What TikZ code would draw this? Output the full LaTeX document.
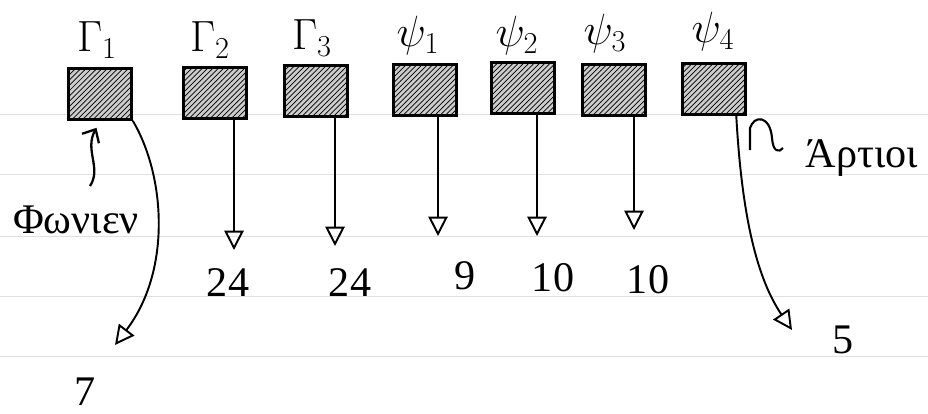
\documentclass[tikz,border=0pt]{standalone}
\usepackage{fontspec}
\setmainfont{Liberation Serif}
\usetikzlibrary{arrows.meta,patterns}
\begin{document}
\begin{tikzpicture}[x=0.02cm,y=-0.02cm,
        cell/.style={draw,line width=1.5pt,minimum width=1.26cm,minimum height=1.02cm,
            fill=gray!40,postaction={pattern=north east lines}},
        lbl/.style={font=\fontsize{24}{28}\selectfont},
        arr/.style={line width=1.1pt,-{Triangle[open,length=11pt,width=11pt]}},
        curl/.style={line width=1.3pt,-{Straight Barb[length=6pt,width=11pt]}}]
        \useasboundingbox (0,0) rectangle (928,413);
        % paper lines
        \foreach \y in {114,174,236,296,356}
            \draw[gray!25] (0,\y) -- (928,\y);
        % the boxes
        \node[cell] (g1) at (100,94) {};
        \node[cell] (g2) at (215,93) {};
        \node[cell] (g3) at (316,91) {};
        \node[cell] (p1) at (425,90) {};
        \node[cell] (p2) at (523,88) {};
        \node[cell] (p3) at (614,90) {};
        \node[cell] (p4) at (714,89) {};
        \node[lbl] (g1l) at (97,40) {$\Gamma_1$};
        \node[lbl] (g2l) at (210,40) {$\Gamma_2$};
        \node[lbl] (g3l) at (312,38) {$\Gamma_3$};
        \node[lbl] (p1l) at (418,36) {$\psi_1$};
        \node[lbl] (p2l) at (517,36) {$\psi_2$};
        \node[lbl] (p3l) at (605,34) {$\psi_3$};
        \node[lbl] (p4l) at (713,32) {$\psi_4$};
        % values
        \node[lbl] (v1) at (85,392) {7};
        \node[lbl] (v2) at (228,283) {24};
        \node[lbl] (v3) at (350,283) {24};
        \node[lbl] (v4) at (465,276) {9};
        \node[lbl] (v5) at (553,278) {10};
        \node[lbl] (v6) at (648,280) {10};
        \node[lbl] (v7) at (843,340) {5};
        \node[lbl] (w1) at (76,220) {Φωνιεν};
        \node[lbl] (w2) at (862,158) {Άρτιοι};
        % arrows
        \coordinate (t1) at (115,345);
        \coordinate (t2) at (234,250);
        \coordinate (t3) at (335,246);
        \coordinate (t4) at (438,236);
        \coordinate (t5) at (537,236);
        \coordinate (t6) at (634,230);
        \coordinate (t7) at (792,330);
        \draw[arr] (g1.south east) .. controls (165,175) and (172,270) .. (t1);
        \draw[arr] (g2.south -| t2) -- (t2);
        \draw[arr] (g3.south -| t3) -- (t3);
        \draw[arr] (p1.south -| t4) -- (t4);
        \draw[arr] (p2.south -| t5) -- (t5);
        \draw[arr] (p3.south -| t6) -- (t6);
        \draw[arr] ([xshift=-6pt]p4.south east) .. controls (742,220) and (758,280) .. (t7);
        % side notes
        \coordinate (c1) at (90,186);
        \draw[curl] (c1) .. controls (102,168) and (84,150) .. ([xshift=-2pt,yshift=-4pt]g1.south);
        \draw[line width=1.2pt] (750,150) -- (750,128) .. controls (754,115) and (770,115) .. (772,138)
            .. controls (773,152) and (779,153) .. (783,148);
\end{tikzpicture}
\end{document}
